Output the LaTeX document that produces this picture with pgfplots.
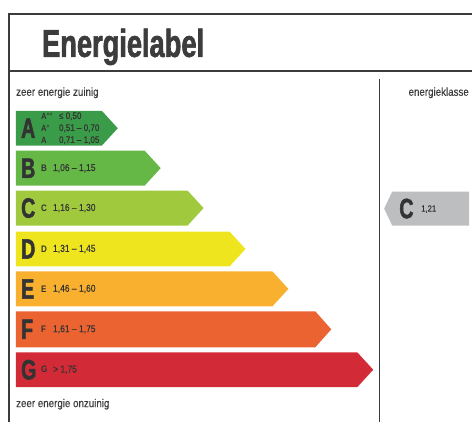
\documentclass[border=0pt]{standalone}
\usepackage{pgfplots}
\pgfplotsset{compat=1.18}
\usepackage{fontspec}
\setmainfont{Liberation Sans}
\newfontfamily\cond[FakeStretch=0.85]{Liberation Sans}
\newfontfamily\condsb[FakeStretch=0.85,FakeBold=0.2]{Liberation Sans}
\newfontfamily\condt[FakeStretch=0.70,FakeBold=1.6]{Liberation Sans Bold}
\newfontfamily\condb[FakeStretch=0.70,FakeBold=1.8]{Liberation Sans Bold}
\definecolor{cA}{HTML}{3A9B48}
\definecolor{cB}{HTML}{65B846}
\definecolor{cC}{HTML}{A0C93D}
\definecolor{cD}{HTML}{EEE51F}
\definecolor{cE}{HTML}{F9B02E}
\definecolor{cF}{HTML}{EB6331}
\definecolor{cG}{HTML}{D22A36}
\definecolor{cGray}{HTML}{BCBEC0}
\definecolor{ink}{HTML}{3C3C3C}
\definecolor{txt}{HTML}{333333}
\newcommand{\bigL}[2]{\node[anchor=west, inner sep=0pt, text=txt] at (axis cs:#1) {\fontsize{28}{28}\condb #2};}
\newcommand{\rng}[3]{%
  \node[anchor=west, inner sep=0pt, text=txt] at (axis cs:41,#1) {\fontsize{9.5}{10}\cond\bfseries #2};
  \node[anchor=west, inner sep=0pt, text=txt] at (axis cs:53,#1) {\fontsize{10}{10}\condsb #3};}
\begin{document}
\begin{tikzpicture}
\begin{axis}[
  scale only axis, width=473pt, height=423pt,
  xmin=0, xmax=473, ymin=0, ymax=423, y dir=reverse,
  hide axis, clip=false,
]
\path (axis cs:0,0) rectangle (axis cs:473,423);
% frame
\draw[ink, line width=2pt] (axis cs:9,423) -- (axis cs:9,14) -- (axis cs:473,14);
\draw[ink, line width=2pt] (axis cs:9,71) -- (axis cs:473,71);
\draw[ink, line width=1.3pt] (axis cs:380,79) -- (axis cs:380,423);
% title
\node[anchor=base west, inner sep=0pt, text=ink] at (axis cs:42,57) {\fontsize{39}{39}\condt Energielabel};
\node[anchor=west, inner sep=0pt, text=ink] at (axis cs:16,93) {\fontsize{11.5}{12}\condsb zeer energie zuinig};
\node[anchor=east, inner sep=0pt, text=ink] at (axis cs:470,93) {\fontsize{11.5}{12}\condsb energieklasse};
\node[anchor=west, inner sep=0pt, text=ink] at (axis cs:16,405) {\fontsize{11.5}{12}\condsb zeer energie onzuinig};
% bars
\addplot[fill=cA, draw=none] coordinates {(16,111) (102,111) (118,128.5) (102,146) (16,146)} --cycle;
\addplot[fill=cB, draw=none] coordinates {(16,151) (145,151) (161,168.5) (145,186) (16,186)} --cycle;
\addplot[fill=cC, draw=none] coordinates {(16,191) (188,191) (204,208.5) (188,226) (16,226)} --cycle;
\addplot[fill=cD, draw=none] coordinates {(16,232) (230,232) (246,249.5) (230,267) (16,267)} --cycle;
\addplot[fill=cE, draw=none] coordinates {(16,272) (273,272) (289,289.5) (273,307) (16,307)} --cycle;
\addplot[fill=cF, draw=none] coordinates {(16,312) (316,312) (332,330) (316,348) (16,348)} --cycle;
\addplot[fill=cG, draw=none] coordinates {(16,353) (358,353) (374,370.5) (358,388) (16,388)} --cycle;
\addplot[fill=cGray, draw=none] coordinates {(385,209) (393,192) (470,192) (470,226) (393,226)} --cycle;
% big letters
\bigL{21,128.5}{A}
\bigL{21,168.5}{B}
\bigL{21,208.5}{C}
\bigL{21,249.5}{D}
\bigL{21,289.5}{E}
\bigL{21,330}{F}
\bigL{21,370.5}{G}
\bigL{400,209}{C}
\node[anchor=west, inner sep=0pt, text=txt] at (axis cs:422,209.5) {\fontsize{9}{9}\condsb 1,21};
% small labels
\rng{168.5}{B}{1,06 – 1,15}
\rng{208.5}{C}{1,16 – 1,30}
\rng{249.5}{D}{1,31 – 1,45}
\rng{289.5}{E}{1,46 – 1,60}
\rng{330}{F}{1,61 – 1,75}
\rng{370.5}{G}{> 1,75}
\node[anchor=west, inner sep=0pt, text=txt] at (axis cs:41,116.5) {\fontsize{9}{8}\cond\bfseries A\textsuperscript{++}};
\node[anchor=west, inner sep=0pt, text=txt] at (axis cs:41,128.5) {\fontsize{9}{8}\cond\bfseries A\textsuperscript{+}};
\node[anchor=west, inner sep=0pt, text=txt] at (axis cs:41,140.5) {\fontsize{9}{8}\cond\bfseries A};
\node[anchor=west, inner sep=0pt, text=txt] at (axis cs:59,116.5) {\fontsize{9.5}{9}\condsb ≤ 0,50};
\node[anchor=west, inner sep=0pt, text=txt] at (axis cs:59,128.5) {\fontsize{9.5}{9}\condsb 0,51 – 0,70};
\node[anchor=west, inner sep=0pt, text=txt] at (axis cs:59,140.5) {\fontsize{9.5}{9}\condsb 0,71 – 1,05};
\end{axis}
\end{tikzpicture}
\end{document}
